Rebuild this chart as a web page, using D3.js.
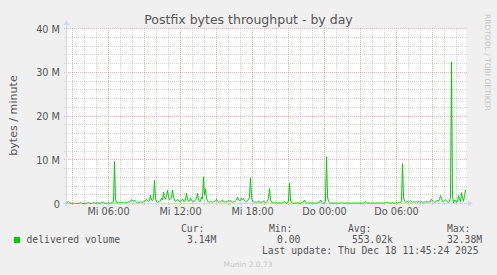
<!DOCTYPE html>
<html><head><meta charset="utf-8">
<script src="https://cdn.jsdelivr.net/npm/d3@7"></script>
<style>
html,body{margin:0;padding:0;background:#F0F0F0;}
svg{display:block;}
</style></head>
<body>
<script>
// ---- data (values in M bytes / minute, 5-minute steps) ----
const title = "Postfix bytes throughput - by day";
const yLabel = "bytes / minute";
const seriesName = "delivered volume";
const seriesColor = "#00CC00";
const startTime = new Date(2025, 11, 17, 2, 30);
const stepMinutes = 5;
const values = [
 0.1,0.2,0.4,0.2,0.1,0,0,0,0.1,0,0,0,0,0.1,0.2,0.1,0,0,0,0,
 0,0.1,0.2,0.1,0,0,0.1,0.3,0.2,0,0.1,0.2,0.1,0,0.1,0.3,0.2,0.3,0.1,0,
 0,0.1,0.2,0.1,0.1,0.2,0.1,0.5,9.6,1.0,0.3,0.2,0.3,0.2,0.3,0.2,0.2,0.3,0.2,0.3,
 0.2,0.3,0.4,0.3,0.5,0.9,0.6,0.4,0.8,0.5,0.3,0.3,0.2,0.3,0.4,0.3,0.2,0.4,0.5,0.6,
 1.0,0.6,0.4,0.7,1.9,0.8,0.6,1.2,5.3,1.0,0.4,0.3,0.5,0.4,0.6,1.2,0.8,2.6,1.2,1.0,
 1.8,3.0,1.5,0.8,1.0,1.4,3.1,1.5,0.8,0.5,0.6,0.9,0.8,0.4,0.5,0.7,1.0,0.5,0.4,0.8,
 2.3,1.0,0.5,0.6,1.3,0.7,0.5,0.4,0.5,0.8,1.2,2.3,0.8,0.4,0.5,1.5,1.0,6.1,2.0,3.3,
 1.2,0.5,0.4,0.3,0.5,0.4,0.3,0.4,0.5,0.6,1.0,0.5,0.3,0.5,0.4,0.6,0.8,0.5,0.3,0.4,
 0.5,0.4,0.7,0.5,0.7,0.4,0.3,0.4,0.5,0.6,0.8,1.5,0.9,0.6,0.7,1.3,0.9,1.1,0.6,0.4,
 0.4,0.6,1.0,1.4,5.9,1.5,0.5,0.4,0.3,0.4,0.3,0.4,0.6,0.3,0.2,0.3,0.4,0.6,0.3,0.2,
 0.3,0.5,1.2,3.4,1.0,0.3,0.2,0.3,0.1,0.1,0.2,0.1,0.1,0.2,0.1,0.1,0.2,0.3,0.4,0.2,
 0.1,0.2,0.6,4.7,0.8,0.2,0.1,0.1,0.1,0.1,0.1,0.2,0.1,0.1,0.1,0.2,0.3,0.4,0.8,0.3,
 0.1,0.1,0.1,0.1,0.2,0.1,0.1,0.1,0.1,0.1,0.1,0.2,0.2,0.3,0.8,0.3,0.1,0.1,0.1,0.5,
 10.7,1.5,0.5,0.2,0.1,0.1,0.1,0.1,0.1,0.1,0.1,0.1,0.1,0.1,0.2,0.3,0.1,0.1,0.1,0.1,
 0.1,0.1,0.1,0.1,0.1,0.1,0.1,0.1,0.1,0.1,0.1,0.1,0.1,0.1,0.1,0.1,0.1,0.1,0.2,0.4,
 0.2,0.1,0.1,0.1,0.1,0.1,0.1,0.1,0.1,0.1,0.1,0.1,0.1,0.1,0.1,0.1,0.1,0.1,0.1,0.2,
 0.3,0.3,0.2,0.1,0.1,0.1,0.2,0.1,0.1,0.1,0.2,0.1,0.2,0.3,0.2,0.6,9.1,1.5,0.5,0.3,
 0.4,0.5,0.3,0.4,0.6,0.4,0.3,0.5,0.4,0.3,0.4,0.3,0.5,0.4,0.3,0.4,0.3,0.2,0.3,0.4,
 0.5,0.3,0.4,0.3,0.6,1.0,0.6,0.4,0.3,0.4,0.5,0.8,0.5,0.9,1.8,1.2,0.5,0.5,0.7,0.9,
 0.6,0.3,0.3,0.4,1.5,32.38,1.5,0.1,0.8,0.8,0.3,0.4,1.8,0.9,0.4,2.5,1.2,0.5,1.8,3.14
];
const yTickValues = [0, 10, 20, 30, 40];
const yTickLabels = ["0", "10 M", "20 M", "30 M", "40 M"];
const xTickTimes = [new Date(2025,11,17,6,0), new Date(2025,11,17,12,0), new Date(2025,11,17,18,0), new Date(2025,11,18,0,0), new Date(2025,11,18,6,0)];
const xTickLabels = ["Mi 06:00", "Mi 12:00", "Mi 18:00", "Do 00:00", "Do 06:00"];
const legendHeaders = ["Cur:", "Min:", "Avg:", "Max:"];
const legendValues = ["3.14M", "0.00", "553.02k", "32.38M"];
const lastUpdate = "Last update: Thu Dec 18 11:45:24 2025";
const footer = "Munin 2.0.73";
const watermark = "RRDTOOL / TOBI OETIKER";

// ---- layout ----
const W = 497, H = 275;
const L = 66, R = 466, T = 28, B = 203;
const endTime = new Date(startTime.getTime() + values.length * stepMinutes * 60000);

const svg = d3.select("body").append("svg").attr("width", W).attr("height", H);
svg.append("rect").attr("width", W).attr("height", H).attr("fill", "#F0F0F0");

const x = d3.scaleTime().domain([startTime, endTime]).range([L, R]);
const y = d3.scaleLinear().domain([0, 40]).range([B + 0.5, T + 0.5]);

// canvas
svg.append("rect").attr("x", L).attr("y", T).attr("width", R - L).attr("height", B - T).attr("fill", "#FFFFFF");

const sans = "'DejaVu Sans', Verdana, sans-serif";
const mono = "'DejaVu Sans Mono', monospace";
const grid = svg.append("g");
const majorCol = "rgba(230,80,80,0.45)";
const minorCol = "rgba(140,140,140,0.38)";

// horizontal grid
d3.range(2, 41, 2).forEach(v => {
  const major = v % 10 === 0;
  const yy = Math.round(y(v) - 0.5) + 0.5;
  grid.append("line").attr("x1", L - 2).attr("x2", R + 2).attr("y1", yy).attr("y2", yy)
    .attr("stroke", major ? majorCol : minorCol)
    .attr("stroke-dasharray", "1,1").attr("stroke-width", 1);
});
// vertical grid
d3.timeHour.range(startTime, endTime).forEach(t => {
  const major = t.getHours() % 3 === 0;
  const xx = Math.round(x(t)) + 0.5;
  grid.append("line").attr("x1", xx).attr("x2", xx).attr("y1", T).attr("y2", B + 3)
    .attr("stroke", major ? majorCol : minorCol)
    .attr("stroke-dasharray", "1,1").attr("stroke-width", 1);
});

// axes (labels via d3 axis)
const yAxis = d3.axisLeft(y).tickValues(yTickValues).tickFormat((d, i) => yTickLabels[i]).tickSize(0).tickPadding(6);
const gy = svg.append("g").attr("transform", `translate(${L},0)`).call(yAxis);
gy.select(".domain").remove();
gy.selectAll("text").attr("font-family", sans).attr("font-size", "9.72px").attr("fill", "#555").attr("dy", "0.36em");

const xAxis = d3.axisBottom(x).tickValues(xTickTimes).tickFormat((d, i) => xTickLabels[i]).tickSize(0).tickPadding(5);
const gx = svg.append("g").attr("transform", `translate(0,${B})`).call(xAxis);
gx.select(".domain").remove();
gx.selectAll("text").attr("font-family", sans).attr("font-size", "9.72px").attr("fill", "#555");

// axis lines & arrows
const axisCol = "#CFD6F8";
svg.append("line").attr("x1", L + 0.5).attr("x2", L + 0.5).attr("y1", B + 3).attr("y2", T - 5).attr("stroke", axisCol);
svg.append("path").attr("d", `M${L - 2.5},${T - 3} L${L + 3.5},${T - 3} L${L + 0.5},${T - 8} Z`).attr("fill", axisCol);
svg.append("line").attr("x1", L - 3).attr("x2", R + 4).attr("y1", B + 0.5).attr("y2", B + 0.5).attr("stroke", axisCol);
svg.append("path").attr("d", `M${R + 2},${B - 2.5} L${R + 2},${B + 3.5} L${R + 7},${B + 0.5} Z`).attr("fill", axisCol);

// series
const line = d3.line()
  .x((d, i) => x(new Date(startTime.getTime() + i * stepMinutes * 60000)) + 0.5)
  .y(d => y(d));
svg.append("path").datum(values).attr("d", line).attr("fill", "none")
  .attr("stroke", seriesColor).attr("stroke-width", 1);

// title
svg.append("text").attr("x", W / 2).attr("y", 24).attr("text-anchor", "middle")
  .attr("font-family", sans).attr("font-size", "12.5px").attr("fill", "#555").text(title);
// y label
svg.append("text").attr("transform", `translate(17,${(T + B) / 2}) rotate(-90)`).attr("text-anchor", "middle")
  .attr("font-family", sans).attr("font-size", "11.1px").attr("fill", "#555").text(yLabel);
// watermark
svg.append("text").attr("transform", `translate(485,14) rotate(90)`).attr("text-anchor", "start")
  .attr("font-family", sans).attr("font-size", "7.5px").attr("fill", "#C4C4C4").text(watermark);

// legend
svg.append("rect").attr("x", 14).attr("y", 237).attr("width", 6).attr("height", 6).attr("fill", seriesColor);
svg.append("text").attr("x", 26.5).attr("y", 242.7).attr("font-family", mono).attr("font-size", "9.72px").attr("fill", "#555").text(seriesName);
const headerX = [181, 269, 348, 447];
const valueX = [187, 277, 352, 447];
legendHeaders.forEach((h, i) => {
  svg.append("text").attr("x", headerX[i]).attr("y", 231.7).attr("font-family", mono).attr("font-size", "9.72px").attr("fill", "#555").text(h);
  svg.append("text").attr("x", valueX[i]).attr("y", 242.7).attr("font-family", mono).attr("font-size", "9.72px").attr("fill", "#555").text(legendValues[i]);
});
svg.append("text").attr("x", 262).attr("y", 254).attr("font-family", mono).attr("font-size", "9.72px").attr("fill", "#555").text(lastUpdate);
svg.append("text").attr("x", 248).attr("y", 267).attr("text-anchor", "middle").attr("font-family", sans).attr("font-size", "7.5px").attr("fill", "#C8C8C8").text(footer);
</script>
</body></html>
